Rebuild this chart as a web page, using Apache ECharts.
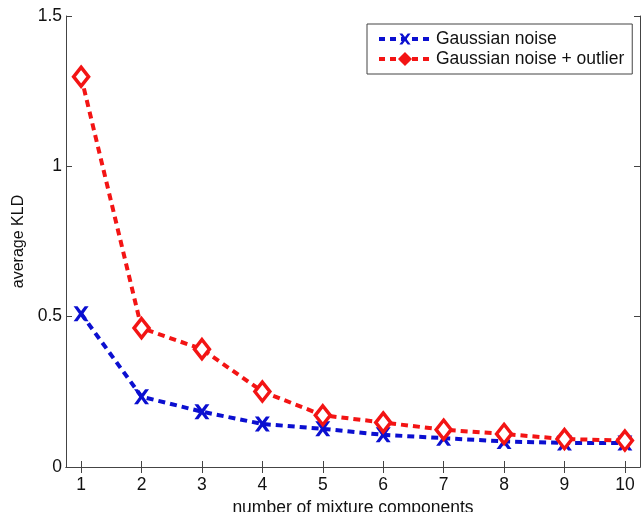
<!DOCTYPE html>
<html>
<head>
<meta charset="utf-8">
<script src="https://cdn.jsdelivr.net/npm/echarts@6/dist/echarts.min.js"></script>
<style>
  html, body { margin: 0; padding: 0; background: #fff; }
  #main { width: 644px; height: 512px; }
</style>
</head>
<body>
<div id="main"></div>
<script>
// data
var components = [1, 2, 3, 4, 5, 6, 7, 8, 9, 10];
var gaussNoise = [0.51, 0.234, 0.184, 0.143, 0.127, 0.107, 0.096, 0.085, 0.080, 0.080];
var gaussOutlier = [1.298, 0.462, 0.392, 0.251, 0.172, 0.148, 0.124, 0.110, 0.093, 0.088];
var yTicks = [0, 0.5, 1, 1.5];

var FONT = '"Liberation Sans", Arial, sans-serif';
var BLUE = '#0b0fd0';
var RED = '#f31414';
var xCross = 'path://M0,0 L2.6,0 L5,3.2 L7.4,0 L10,0 L6.4,5 L10,10 L7.4,10 L5,6.8 L2.6,10 L0,10 L3.6,5 Z';

function pairs(ys) {
    return components.map(function (c, i) { return [c, ys[i]]; });
}

var myChart = echarts.init(document.getElementById('main'));

var axisLineStyle = { color: '#444', width: 1 };

var option = {
    backgroundColor: '#fff',
    animation: false,
    textStyle: { fontFamily: FONT },
    grid: { left: 66, right: 4, top: 16, bottom: 45, outerBoundsMode: 'none', containLabel: false },
    legend: {
        orient: 'vertical',
        left: 367,
        top: 24,
        padding: [6, 8, 6, 10],
        itemWidth: 52,
        itemHeight: 14,
        itemGap: 2,
        borderColor: '#444',
        borderWidth: 1,
        backgroundColor: '#fff',
        textStyle: { fontFamily: FONT, fontSize: 17.5, color: '#111' },
        data: [
            { name: 'Gaussian noise', lineStyle: { width: 4, type: [6, 5] } },
            { name: 'Gaussian noise + outlier', lineStyle: { width: 4, type: [6, 5] },
              itemStyle: { color: RED, borderColor: RED } }
        ]
    },
    xAxis: [{
        type: 'value',
        min: 0.75,
        max: 10.25,
        name: 'number of mixture components',
        nameLocation: 'middle',
        nameGap: 27,
        nameTextStyle: { fontFamily: FONT, fontSize: 17.5, color: '#111' },
        axisLine: { lineStyle: axisLineStyle },
        axisTick: { inside: true, length: 6, lineStyle: axisLineStyle, customValues: components },
        axisLabel: { fontFamily: FONT, fontSize: 17.5, color: '#111', margin: 9, customValues: components },
        splitLine: { show: false }
    }, {
        type: 'value',
        position: 'top',
        min: 0.75,
        max: 10.25,
        axisLine: { show: true, lineStyle: axisLineStyle },
        axisTick: { inside: true, length: 6, lineStyle: axisLineStyle, customValues: components },
        axisLabel: { show: false },
        splitLine: { show: false }
    }],
    yAxis: [{
        type: 'value',
        min: 0,
        max: 1.5,
        interval: 0.5,
        name: 'average KLD',
        nameLocation: 'middle',
        nameGap: 38,
        nameTextStyle: { fontFamily: FONT, fontSize: 16, color: '#111' },
        axisLine: { show: true, lineStyle: axisLineStyle },
        axisTick: { inside: true, length: 6, lineStyle: axisLineStyle },
        axisLabel: { fontFamily: FONT, fontSize: 17.5, color: '#111', margin: 4 },
        splitLine: { show: false }
    }, {
        type: 'value',
        position: 'right',
        min: 0,
        max: 1.5,
        interval: 0.5,
        axisLine: { show: true, lineStyle: axisLineStyle },
        axisTick: { inside: true, length: 6, lineStyle: axisLineStyle },
        axisLabel: { show: false },
        splitLine: { show: false }
    }],
    series: [{
        name: 'Gaussian noise',
        type: 'line',
        data: pairs(gaussNoise),
        symbol: xCross,
        symbolSize: 15,
        itemStyle: { color: BLUE, borderWidth: 0 },
        lineStyle: { color: BLUE, width: 4, type: [7, 5] },
        z: 2
    }, {
        name: 'Gaussian noise + outlier',
        type: 'line',
        data: pairs(gaussOutlier),
        symbol: 'diamond',
        symbolSize: [15, 19],
        itemStyle: { color: '#fff', borderColor: RED, borderWidth: 3.5 },
        lineStyle: { color: RED, width: 4, type: [7, 5] },
        z: 3
    }]
};

myChart.setOption(option);
</script>
</body>
</html>
